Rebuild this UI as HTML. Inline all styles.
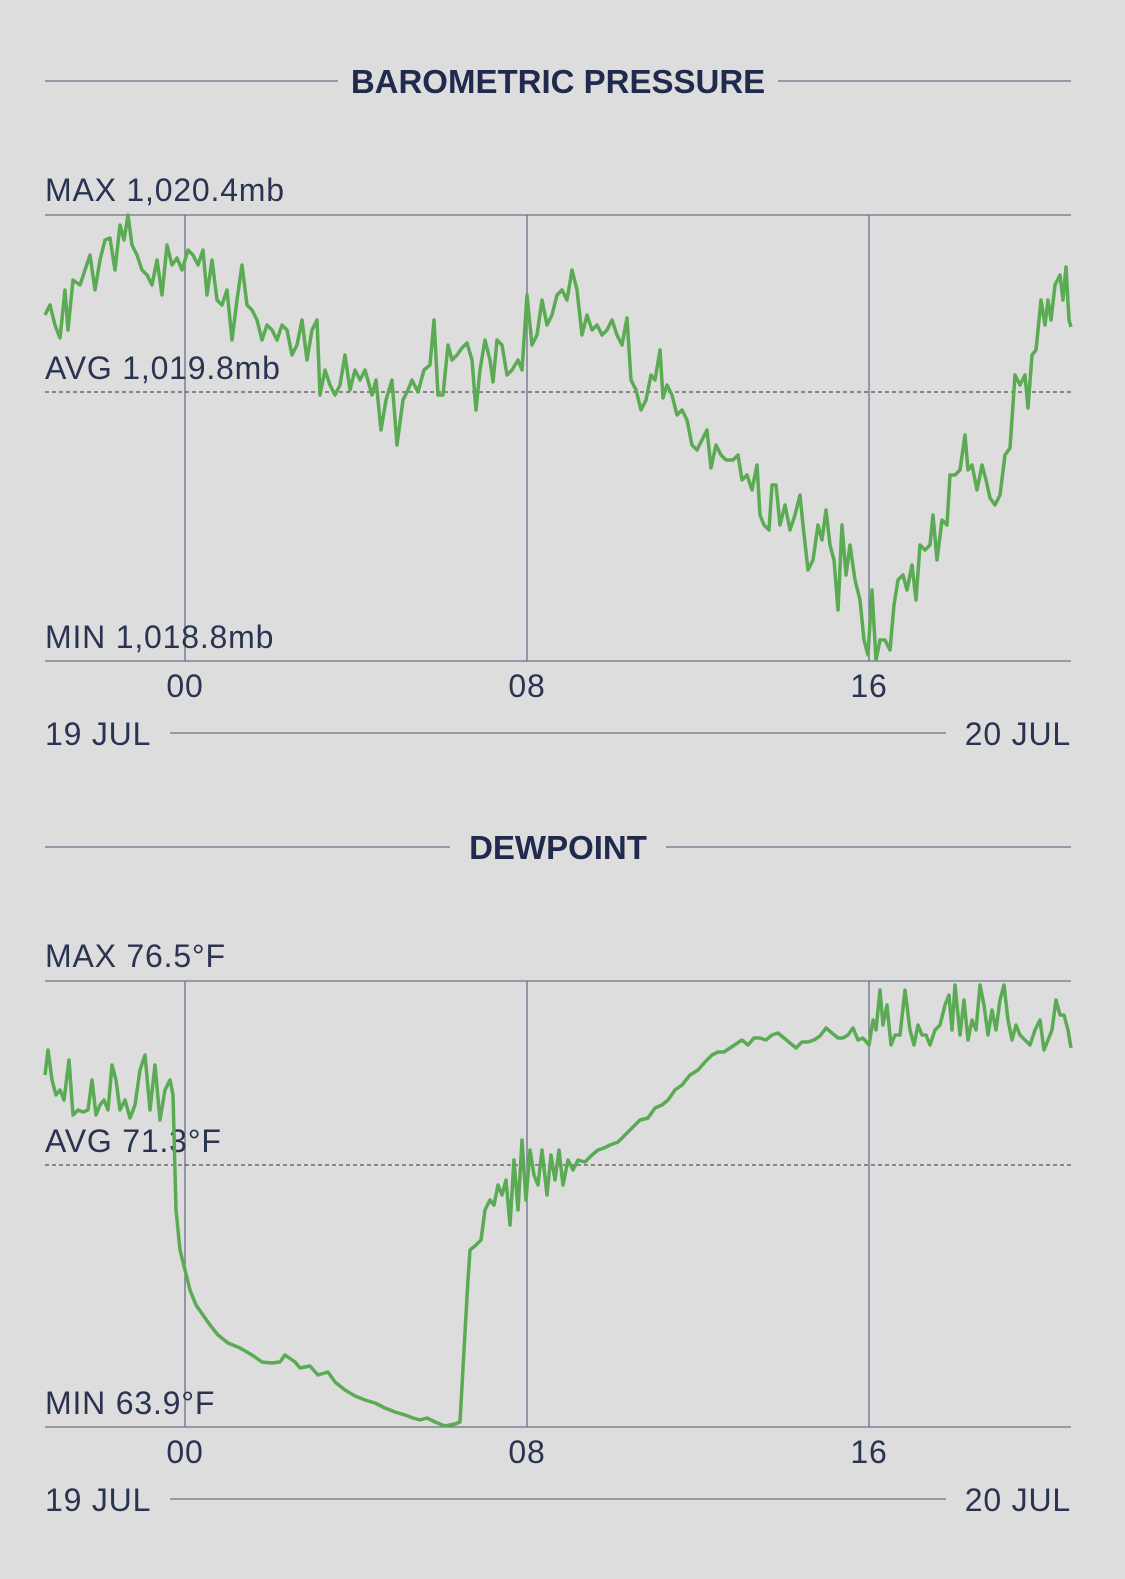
<!DOCTYPE html>
<html><head><meta charset="utf-8"><style>
html,body{margin:0;padding:0;background:#dddddd;}
svg{display:block}
text{font-family:"Liberation Sans",sans-serif;fill:#2a3352;}
.lbl{font-size:32px;font-weight:300;letter-spacing:0.8px;}
.ttl{font-size:33px;font-weight:bold;fill:#1f2a4d;}
</style></head><body>
<svg width="1125" height="1579" viewBox="0 0 1125 1579" xmlns="http://www.w3.org/2000/svg">
<g stroke="#6b7188" stroke-width="1.3" fill="none">
<line x1="45" y1="81" x2="338" y2="81"/><line x1="778" y1="81" x2="1071" y2="81"/>
<line x1="45" y1="215" x2="1071" y2="215"/><line x1="45" y1="661" x2="1071" y2="661"/>
<line x1="185" y1="215" x2="185" y2="661"/><line x1="527" y1="215" x2="527" y2="661"/><line x1="869" y1="215" x2="869" y2="661"/>
<line x1="170" y1="733" x2="946" y2="733"/>
<line x1="45" y1="847" x2="450" y2="847"/><line x1="666" y1="847" x2="1071" y2="847"/>
<line x1="45" y1="981" x2="1071" y2="981"/><line x1="45" y1="1427" x2="1071" y2="1427"/>
<line x1="185" y1="981" x2="185" y2="1427"/><line x1="527" y1="981" x2="527" y2="1427"/><line x1="869" y1="981" x2="869" y2="1427"/>
<line x1="170" y1="1499" x2="946" y2="1499"/>
</g>
<g stroke="#333" stroke-width="1" stroke-dasharray="4,3">
<line x1="45" y1="392" x2="1071" y2="392"/><line x1="45" y1="1165" x2="1071" y2="1165"/>
</g>
<text class="ttl" x="558" y="93" text-anchor="middle">BAROMETRIC PRESSURE</text>
<text class="lbl" x="45" y="201">MAX 1,020.4mb</text>
<text class="lbl" x="45" y="379">AVG 1,019.8mb</text>
<text class="lbl" x="45" y="648">MIN 1,018.8mb</text>
<text class="lbl" x="185" y="697" text-anchor="middle">00</text>
<text class="lbl" x="527" y="697" text-anchor="middle">08</text>
<text class="lbl" x="869" y="697" text-anchor="middle">16</text>
<text class="lbl" x="45" y="745">19 JUL</text>
<text class="lbl" x="1071" y="745" text-anchor="end">20 JUL</text>
<text class="ttl" x="558" y="859" text-anchor="middle">DEWPOINT</text>
<text class="lbl" x="45" y="967">MAX 76.5°F</text>
<text class="lbl" x="45" y="1152">AVG 71.3°F</text>
<text class="lbl" x="45" y="1414">MIN 63.9°F</text>
<text class="lbl" x="185" y="1463" text-anchor="middle">00</text>
<text class="lbl" x="527" y="1463" text-anchor="middle">08</text>
<text class="lbl" x="869" y="1463" text-anchor="middle">16</text>
<text class="lbl" x="45" y="1511">19 JUL</text>
<text class="lbl" x="1071" y="1511" text-anchor="end">20 JUL</text>
<g fill="none" stroke="#5aab54" stroke-width="3.5" stroke-linejoin="round">
<polyline points="45,315 50,305 55,325 60,338 65,290 68,330 73,280 80,285 85,270 90,255 95,290 100,260 105,240 110,238 115,270 120,225 124,240 128,215 132,245 137,255 142,270 147,275 152,285 157,260 162,295 167,245 172,265 177,258 182,270 188,250 193,255 198,265 203,250 207,295 212,260 217,300 222,305 227,290 232,340 237,300 242,265 247,305 252,310 257,320 262,340 267,325 272,330 277,340 282,325 287,330 292,355 297,345 302,320 307,360 312,330 317,320 320,395 325,370 330,385 335,395 340,385 345,355 350,390 355,370 360,380 365,370 372,395 376,380 381,430 386,400 392,380 397,445 403,400 408,390 412,380 418,392 424,370 430,365 434,320 438,395 443,395 448,345 452,360 457,355 462,348 467,343 472,360 476,410 480,370 485,340 490,360 493,382 497,340 502,345 507,375 512,370 518,360 522,370 527,295 532,345 537,335 542,300 547,325 552,315 557,295 562,290 567,300 572,270 577,290 582,335 587,315 592,330 597,325 602,335 607,330 612,320 617,335 622,345 627,318 631,380 636,390 641,410 646,400 651,375 655,380 660,350 663,398 667,385 672,395 677,415 682,410 687,420 692,445 697,450 702,440 707,430 711,468 716,445 721,455 726,460 733,460 738,455 742,480 747,475 752,490 757,465 760,515 764,525 769,530 772,485 776,485 780,525 785,505 790,530 795,515 800,495 803,525 808,570 813,560 818,525 822,540 826,510 830,545 834,560 838,610 842,525 846,575 850,545 855,580 860,600 864,640 868,655 872,590 876,660 880,640 885,640 890,650 894,605 898,580 903,575 907,590 912,565 916,600 920,545 925,550 930,545 933,515 937,560 942,520 947,525 950,475 955,475 960,470 965,435 968,470 972,465 977,490 982,465 986,480 990,498 995,505 1000,495 1005,455 1010,448 1015,375 1020,385 1025,375 1028,408 1032,355 1036,350 1041,300 1045,325 1048,300 1051,320 1055,285 1060,275 1063,300 1066,267 1069,320 1071,327"/>
<polyline points="45,1075 48,1050 52,1080 56,1095 60,1090 64,1100 69,1060 73,1115 78,1110 83,1112 88,1110 92,1080 96,1115 100,1105 104,1100 108,1110 112,1065 116,1080 120,1110 125,1100 130,1118 135,1105 140,1070 145,1055 150,1110 155,1065 160,1120 165,1090 170,1080 173,1095 176,1210 180,1250 185,1270 190,1290 196,1305 203,1315 210,1325 218,1335 228,1343 240,1348 252,1355 262,1362 272,1363 280,1362 285,1355 295,1362 300,1368 310,1366 318,1375 328,1372 335,1382 345,1390 355,1396 365,1400 375,1403 385,1408 395,1412 405,1415 413,1418 420,1420 427,1418 435,1422 445,1426 455,1424 460,1422 464,1350 468,1280 470,1250 476,1245 481,1240 485,1210 490,1200 494,1205 498,1185 502,1195 506,1180 510,1225 514,1160 518,1210 522,1140 526,1200 530,1150 534,1175 538,1185 542,1150 547,1195 551,1155 555,1180 559,1150 563,1185 568,1160 573,1170 578,1160 585,1162 592,1155 598,1150 604,1148 610,1145 618,1142 625,1135 632,1128 640,1120 648,1118 655,1108 662,1105 668,1100 675,1090 682,1085 690,1075 698,1070 705,1062 712,1055 718,1052 724,1052 730,1048 736,1044 742,1040 748,1045 754,1038 760,1038 766,1040 772,1035 778,1033 784,1038 790,1043 796,1048 802,1042 808,1042 814,1040 820,1036 826,1028 832,1033 838,1038 843,1038 848,1035 853,1028 858,1040 863,1038 869,1045 873,1020 876,1030 880,990 883,1025 887,1005 891,1045 895,1035 900,1035 905,990 910,1030 914,1045 918,1025 922,1035 926,1035 930,1045 935,1030 940,1025 945,1005 949,995 952,1030 955,985 960,1035 964,1000 968,1040 972,1020 976,1030 980,985 984,1005 988,1035 992,1010 996,1030 1000,1000 1004,985 1008,1020 1012,1040 1016,1025 1020,1035 1025,1040 1030,1045 1035,1030 1040,1020 1044,1050 1048,1040 1052,1030 1056,1000 1060,1015 1064,1015 1068,1030 1071,1048"/>
</g>
</svg>
</body></html>
